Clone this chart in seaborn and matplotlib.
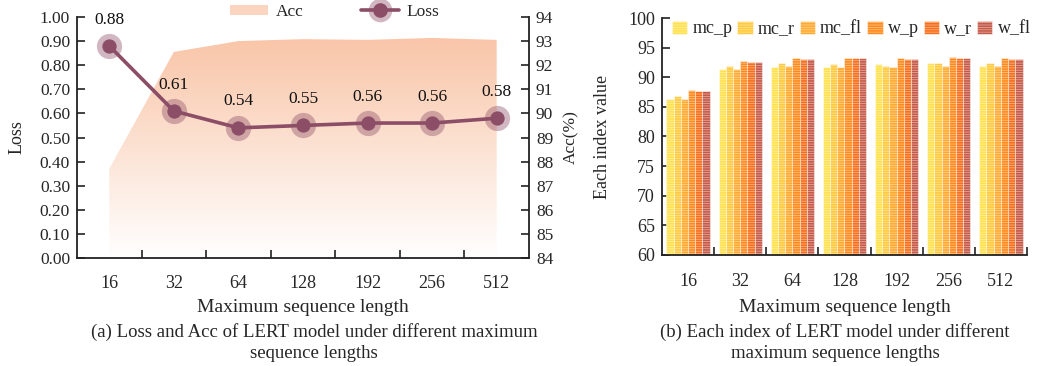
import numpy as np
import pandas as pd
import matplotlib
matplotlib.use('Agg')
import matplotlib.pyplot as plt
from matplotlib.patches import Patch
from matplotlib.lines import Line2D
from matplotlib.legend_handler import HandlerTuple
from matplotlib.ticker import FormatStrFormatter, FixedLocator
from matplotlib.colors import to_rgb
import seaborn as sns

sns.set_theme(style='ticks')
plt.rcParams['font.family'] = ['Liberation Serif', 'DejaVu Serif']
plt.rcParams['hatch.linewidth'] = 0.5

# data
lengths = ['16', '32', '64', '128', '192', '256', '512']
loss = [0.88, 0.61, 0.54, 0.55, 0.56, 0.56, 0.58]
acc = [87.7, 92.55, 93.0, 93.08, 93.05, 93.13, 93.05]

metrics = ['mc_p', 'mc_r', 'mc_fl', 'w_p', 'w_r', 'w_fl']
mc_p = [86.3, 91.4, 91.7, 91.7, 92.2, 92.4, 91.9]
mc_r = [86.9, 91.9, 92.4, 92.2, 91.9, 92.4, 92.4]
mc_fl = [86.25, 91.4, 91.9, 91.7, 91.7, 91.9, 91.9]
w_p = [87.8, 92.7, 93.2, 93.2, 93.2, 93.4, 93.2]
w_r = [87.6, 92.6, 93.0, 93.2, 93.0, 93.2, 93.0]
w_fl = [87.6, 92.6, 93.0, 93.2, 93.0, 93.2, 93.0]

bar_colors = ['#FFE14D', '#FFC93C', '#FFA92E', '#FF8A1C', '#F66E1A', '#C65A48']
line_c = '#8C4D66'
spine_c = '#222222'

fig = plt.figure(figsize=(10.4, 3.66), dpi=100)
ax = fig.add_axes([0.074, 0.295, 0.4346, 0.6586])
axb = fig.add_axes([0.6365, 0.3033, 0.351, 0.6475])

# ---- (a) loss line + acc area ----
pos = np.arange(len(lengths))
df_a = pd.DataFrame({'pos': pos, 'loss': loss, 'acc': acc})
ax2 = ax.twinx()
ax.set_zorder(2)
ax2.set_zorder(1)
ax.patch.set_visible(False)

poly = ax2.fill_between(df_a['pos'], df_a['acc'], 84, facecolor='none', edgecolor='none')
top = np.array(to_rgb('#F9C4A6'))
g = np.linspace(0, 1, 256)[:, None]
img = np.ones((256, 1, 4))
img[:, 0, :3] = (1 - g) * np.array([1, 1, 1]) + g * top
im = ax2.imshow(img, extent=[0, 6, 84, 93.3], origin='lower', aspect='auto', interpolation='bilinear')
im.set_clip_path(poly.get_paths()[0], transform=ax2.transData)
ax2.set_ylim(84, 94)
ax2.set_yticks(range(84, 95))

ax.scatter(df_a['pos'], df_a['loss'], s=330, color=line_c, alpha=0.4, linewidths=0, zorder=3)
sns.lineplot(data=df_a, x='pos', y='loss', ax=ax, color=line_c, lw=2.6, marker='o', ms=9.5,
             mec=line_c, mfc=line_c, zorder=4, legend=False)
for p, v in zip(pos, loss):
    ax.annotate(f'{v:.2f}', (p, v), xytext=(0, 19), textcoords='offset points',
                ha='center', va='center', fontsize=12.5, color='#111111')

ax.set_xlim(-0.5, 6.5)
ax.set_ylim(0, 1.0)
ax.set_yticks(np.arange(0, 1.01, 0.1))
ax.yaxis.set_major_formatter(FormatStrFormatter('%.2f'))
ax.set_xticks(pos)
ax.set_xticklabels(lengths)
ax.xaxis.set_minor_locator(FixedLocator(np.arange(0.5, 6.0, 1)))
ax.tick_params(axis='x', which='major', length=0, pad=12, labelsize=13)
ax.tick_params(axis='x', which='minor', direction='in', length=6, width=1.2, color=spine_c)
ax.tick_params(axis='y', direction='in', length=6, width=1.2, labelsize=12.5, color=spine_c, pad=5)
ax2.tick_params(axis='y', direction='in', length=6, width=1.2, labelsize=12.5, color=spine_c, pad=5)
ax.set_xlabel('Maximum sequence length', fontsize=14)
ax.xaxis.set_label_coords(0.5, -0.172)
ax.set_ylabel('Loss', fontsize=13)
ax.yaxis.set_label_coords(-0.113, 0.5)
ax2.set_ylabel('Acc(%)', fontsize=12.5)
ax2.yaxis.set_label_coords(1.075, 0.5)
for s in ['top', 'right']:
    ax.spines[s].set_visible(False)
for s in ['top', 'left', 'bottom']:
    ax2.spines[s].set_visible(False)
for a in (ax, ax2):
    for sp in a.spines.values():
        sp.set_color(spine_c)
        sp.set_linewidth(1.3)

h_acc = Patch(facecolor='#FCD5C0', edgecolor='none')
h_halo = Line2D([], [], ls='none', marker='o', ms=17, mfc=line_c, mec='none', alpha=0.4)
h_line = Line2D([], [], color=line_c, lw=2.6, marker='o', ms=9.5, mfc=line_c, mec=line_c)
fig.legend([h_acc, (h_halo, h_line)], ['Acc', 'Loss'], loc='center', bbox_to_anchor=(0.3216, 0.967),
           ncol=2, frameon=False, fontsize=12.5, handlelength=2.2, handleheight=0.55,
           handletextpad=0.45, columnspacing=3.3,
           handler_map={tuple: HandlerTuple(ndivide=1)})

# ---- (b) grouped bars ----
df_b = pd.DataFrame({'length': lengths * 6,
                     'metric': np.repeat(metrics, len(lengths)),
                     'value': mc_p + mc_r + mc_fl + w_p + w_r + w_fl})
sns.barplot(data=df_b, x='length', y='value', hue='metric', order=lengths, hue_order=metrics,
            palette=bar_colors, width=0.83, ax=axb, edgecolor=(1, 1, 1, 0.55), linewidth=0.6,
            hatch='-------', saturation=1, errorbar=None)
axb.set_ylim(60, 100)
axb.set_xlim(-0.5, 6.5)
axb.set_yticks(range(60, 101, 5))
axb.xaxis.set_minor_locator(FixedLocator(np.arange(0.5, 7.0, 1)))
axb.tick_params(axis='x', which='major', length=0, pad=13, labelsize=13)
axb.tick_params(axis='x', which='minor', direction='in', length=6, width=1.2, color=spine_c)
axb.tick_params(axis='y', direction='in', length=6, width=1.2, labelsize=13, color=spine_c, pad=5)
axb.set_xlabel('Maximum sequence length', fontsize=14)
axb.xaxis.set_label_coords(0.5, -0.187)
axb.set_ylabel('Each index value', fontsize=13)
axb.yaxis.set_label_coords(-0.14, 0.5)
sns.despine(ax=axb)
for sp in axb.spines.values():
    sp.set_color(spine_c)
    sp.set_linewidth(1.3)
axb.legend(ncol=6, loc='upper left', bbox_to_anchor=(0.027, 0.99), frameon=False, fontsize=13,
           handlelength=0.85, handleheight=0.72, handletextpad=0.28, columnspacing=0.28,
           borderaxespad=0, borderpad=0)

# captions
fig.text(0.302, 0.064, '(a) Loss and Acc of LERT model under different maximum\nsequence lengths',
         ha='center', va='center', fontsize=13.5, linespacing=1.35)
fig.text(0.803, 0.064, '(b) Each index of LERT model under different\nmaximum sequence lengths',
         ha='center', va='center', fontsize=13.5, linespacing=1.35)

fig.savefig('out.png', dpi=100)
